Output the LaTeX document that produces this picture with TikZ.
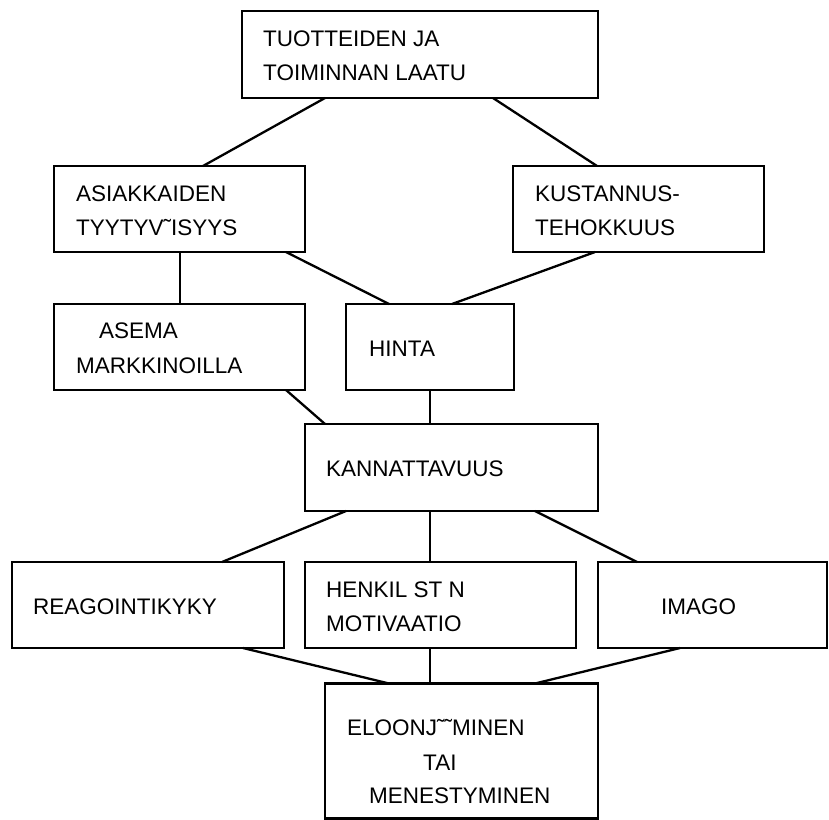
\documentclass[tikz,border=0pt]{standalone}
\usepackage{fontspec}
\setmainfont{Liberation Sans}
\begin{document}
\begin{tikzpicture}[x=1pt,y=-1pt,
  box/.style={draw,line width=2.6pt,rectangle,inner sep=0pt,outer sep=0pt},
  txt/.style={anchor=base west,inner sep=0pt,font=\fontsize{22.5}{27}\selectfont},
  conn/.style={line width=2.3pt}]
\useasboundingbox (0,0) rectangle (829,819);
% boxes
\node[box,minimum width=356pt,minimum height=87pt] (top) at (420,54.5) {};
\node[box,minimum width=251pt,minimum height=86pt] (asi) at (179.5,209) {};
\node[box,minimum width=251pt,minimum height=86pt] (kus) at (638.5,209) {};
\node[box,minimum width=251pt,minimum height=86pt] (ase) at (179.5,347) {};
\node[box,minimum width=168pt,minimum height=86pt] (hin) at (430,347) {};
\node[box,minimum width=293pt,minimum height=87pt] (kan) at (451.5,467.5) {};
\node[box,minimum width=272pt,minimum height=86pt] (rea) at (148,605) {};
\node[box,minimum width=271pt,minimum height=86pt] (hen) at (440.5,605) {};
\node[box,minimum width=229pt,minimum height=86pt] (ima) at (712.5,605) {};
\node[box,minimum width=273pt,minimum height=135pt] (elo) at (461.5,751) {};
% texts
\node[txt] (t1a) at (263,46) {TUOTTEIDEN JA};
\node[txt] (t1b) at (263,80) {TOIMINNAN LAATU};
\node[txt] (t2a) at (76,201) {ASIAKKAIDEN};
\node[txt] (t2b) at (76,235) {TYYTYV˜ISYYS};
\node[txt] (t3a) at (535,201) {KUSTANNUS-};
\node[txt] (t3b) at (535,235) {TEHOKKUUS};
\node[txt] (t4a) at (99,338) {ASEMA};
\node[txt] (t4b) at (76,373) {MARKKINOILLA};
\node[txt] (t5) at (369,356) {HINTA};
\node[txt] (t6) at (326,476) {KANNATTAVUUS};
\node[txt] (t7) at (33,614) {REAGOINTIKYKY};
\node[txt] (t8a) at (326,597) {HENKIL ST N};
\node[txt] (t8b) at (326,631) {MOTIVAATIO};
\node[txt] (t9) at (661,614) {IMAGO};
\node[txt] (t10a) at (347,735) {ELOONJ˜˜MINEN};
\node[txt] (t10b) at (423,770) {TAI};
\node[txt] (t10c) at (369,803) {MENESTYMINEN};
% connectors
\draw[conn] ([xshift=83pt]top.south west) -- ([xshift=149pt]asi.north west);
\draw[conn] ([xshift=251pt]top.south west) -- ([xshift=84pt]kus.north west);
\draw[conn] ([xshift=126pt]asi.south west) -- ([xshift=126pt]ase.north west);
\draw[conn] ([xshift=232pt]asi.south west) -- ([xshift=43pt]hin.north west);
\draw[conn] ([xshift=82pt]kus.south west) -- ([xshift=106pt]hin.north west);
\draw[conn] ([xshift=232pt]ase.south west) -- ([xshift=20pt]kan.north west);
\draw[conn] (hin.south) -- ([xshift=125pt]kan.north west);
\draw[conn] ([xshift=41pt]kan.south west) -- ([xshift=210pt]rea.north west);
\draw[conn] ([xshift=125pt]kan.south west) -- ([xshift=125pt]hen.north west);
\draw[conn] ([xshift=230pt]kan.south west) -- ([xshift=39pt]ima.north west);
\draw[conn] ([xshift=231pt]rea.south west) -- ([xshift=64pt]elo.north west);
\draw[conn] ([xshift=125pt]hen.south west) -- ([xshift=105pt]elo.north west);
\draw[conn] ([xshift=82pt]ima.south west) -- ([xshift=210pt]elo.north west);
\end{tikzpicture}
\end{document}
